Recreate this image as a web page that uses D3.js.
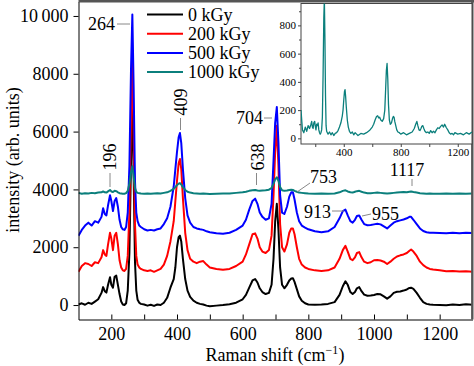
<!DOCTYPE html>
<html><head><meta charset="utf-8">
<script src="https://cdn.jsdelivr.net/npm/d3@7/dist/d3.min.js"></script>
<style>
body{margin:0;background:#fff}
svg{display:block}
text{font-family:"Liberation Serif","Times New Roman",serif;fill:#000}
</style>
</head><body><svg width="474" height="366"></svg>
<script>
// Raman shift grid (cm^-1)
const shift = [
 100,110,120,130,140,150,160,170,175,180,
 185,190,196,200,205,210,215,220,225,230,
 235,240,245,250,255,260,264,268,272,276,
 280,285,290,300,310,320,330,340,350,360,
 370,380,390,395,400,405,409,413,418,425,
 432,440,450,460,470,480,490,500,520,540,
 560,580,600,610,620,630,638,645,652,660,
 670,680,688,694,699,704,709,714,720,727,
 735,742,748,753,758,765,772,780,790,800,
 820,840,860,880,895,905,913,920,928,935,
 942,948,955,962,970,980,990,1000,1010,1020,
 1030,1040,1050,1060,1070,1080,1090,1100,1108,1113,
 1120,1130,1140,1150,1160,1170,1180,1200,1220,1240,
 1260,1280,1300];

const dose0 = [
 20,60,10,80,40,120,200,420,620,480,
 430,700,960,700,600,980,1020,700,380,120,
 20,0,60,500,1800,5000,7200,4500,1500,500,
 180,80,40,20,-20,10,-30,20,0,80,
 250,600,900,1300,2000,2350,2400,2200,1600,900,
 500,280,150,80,40,20,-20,-40,-20,0,
 30,80,200,350,600,850,900,780,580,450,
 380,420,700,1600,2900,3500,2600,1300,700,580,
 700,850,920,930,800,550,300,150,60,20,
 10,20,40,100,350,650,820,700,450,380,
 450,580,620,480,360,320,330,350,380,370,
 300,220,300,420,460,470,500,540,590,600,
 560,420,250,100,40,20,10,0,-10,20,
 0,30,10];

const dose200 = [
 1150,1350,1450,1420,1350,1480,1450,1650,1900,1750,
 1700,2100,2500,2300,1900,2400,2500,2100,1550,1300,
 1200,1180,1250,1700,3200,6500,8700,5800,2800,1700,
 1400,1300,1250,1200,1180,1200,1150,1200,1250,1400,
 1700,2200,2900,3600,4300,4900,5050,4700,3700,2500,
 1900,1600,1500,1450,1500,1520,1400,1300,1250,1220,
 1250,1350,1500,1750,2100,2450,2480,2300,2000,1850,
 1800,1900,2400,3800,5300,6200,4800,2800,2000,1850,
 2100,2500,2650,2650,2450,2000,1600,1400,1300,1250,
 1200,1180,1200,1300,1600,1900,2050,1850,1600,1550,
 1650,1800,1830,1650,1500,1450,1480,1550,1560,1540,
 1500,1420,1500,1600,1680,1720,1750,1800,1880,1920,
 1850,1700,1500,1380,1300,1250,1230,1200,1170,1180,
 1160,1170,1150];

const dose500 = [
 2400,2600,2750,2850,2750,2900,2850,3050,3350,3150,
 3100,3450,3800,3600,3250,3600,3700,3400,2950,2700,
 2620,2600,2700,3200,4800,8200,10050,7500,4300,3200,
 2900,2750,2700,2620,2580,2600,2580,2620,2650,2800,
 3000,3400,4100,4700,5300,5800,5950,5600,4700,3700,
 3100,2850,2700,2650,2620,2600,2550,2520,2480,2470,
 2500,2600,2750,2950,3300,3600,3680,3500,3200,3050,
 2950,3000,3500,5000,6300,6850,5600,3800,3200,3150,
 3400,3750,3900,3900,3650,3200,2900,2750,2680,2620,
 2550,2520,2550,2700,3000,3250,3300,3100,2900,2850,
 2950,3080,3100,2950,2800,2760,2770,2790,2810,2790,
 2720,2650,2750,2850,2900,2930,2960,3000,3050,3050,
 2950,2800,2650,2560,2520,2500,2500,2490,2480,2500,
 2480,2500,2490];

const dose1000 = [
 3880,3850,3870,3860,3880,3870,3890,3900,3930,3900,
 3890,3930,3980,3930,3910,3950,3940,3900,3870,3860,
 3850,3850,3870,3950,4200,4600,4800,4450,4050,3920,
 3880,3870,3860,3850,3860,3850,3860,3870,3860,3880,
 3900,3950,4020,4080,4150,4200,4220,4170,4080,3980,
 3920,3890,3870,3860,3850,3860,3850,3840,3850,3860,
 3860,3880,3900,3920,3950,3970,3980,3960,3950,3960,
 3970,3990,4050,4200,4350,4420,4300,4080,3970,3950,
 3960,3980,3990,3980,3950,3920,3890,3880,3870,3860,
 3850,3860,3850,3860,3900,3950,3970,3930,3900,3890,
 3920,3940,3950,3920,3890,3870,3870,3880,3890,3880,
 3870,3860,3870,3880,3890,3900,3910,3900,3920,3930,
 3910,3890,3870,3860,3850,3860,3850,3850,3860,3850,
 3860,3850,3860];

// inset: 1000 kGy spectrum on its own scale
const inset1000 = [
 200,60,40,80,50,90,70,100,120,80,
 70,110,120,90,60,100,90,110,60,40,
 30,40,60,150,450,850,990,700,300,90,
 50,40,30,45,25,40,20,35,40,55,
 80,110,160,200,270,330,345,300,220,130,
 80,50,35,45,25,40,30,20,35,30,
 40,55,80,100,130,155,160,145,150,130,
 120,140,200,350,480,530,420,240,130,100,
 110,140,155,150,120,90,60,45,40,30,
 40,25,35,45,70,100,120,90,60,55,
 70,85,90,70,50,40,45,35,55,40,
 50,40,60,75,70,85,95,80,100,90,
 75,60,40,30,35,25,40,30,35,25,
 40,30,45];

const seriesNames = ["0 kGy","200 kGy","500 kGy","1000 kGy"];
const seriesColors = ["#000000","#ff0000","#0000ff","#0b7f7c"];
const seriesValues = [dose0,dose200,dose500,dose1000];

const xTickValues = [200,300,400,500,600,700,800,900,1000,1100,1200];
const yTickValues = [0,2000,4000,6000,8000,10000];
const yTickLabels = ["0","2000","4000","6000","8000","10\u2009000"];
const insetYMajor = [0,200,400,600,800];
const insetYMinor = [100,300,500,700,900];
const insetXTicks = [200,400,600,800,1000,1200];

const peakLabels = ["264","196","409","638","704","753","913","955","1117"];

const svg = d3.select("svg");
const L=78.5, R=472.5, T=1.5, B=319.5;
const x = d3.scaleLinear().domain([100,1300]).range([L,R]);
const y = d3.scaleLinear().domain([-500,10500]).range([B,T]);

svg.append("defs").append("clipPath").attr("id","clipMain")
  .append("rect").attr("x",L).attr("y",T).attr("width",R-L).attr("height",B-T);

// lines
const line = vals => d3.line().x((d,i)=>x(shift[i])).y(d=>y(d))(vals);
const gLines = svg.append("g").attr("clip-path","url(#clipMain)");
seriesValues.forEach((vals,k)=>{
  gLines.append("path").attr("d",line(vals)).attr("fill","none")
    .attr("stroke",seriesColors[k]).attr("stroke-width",2).attr("stroke-linejoin","round");
});

// axes
const xAxis = d3.axisBottom(x).tickValues(xTickValues).tickSize(-5).tickSizeOuter(0).tickPadding(8)
  .tickFormat(d => d%200===0 ? d : "");
const gx = svg.append("g").attr("transform",`translate(0,${B})`).call(xAxis);
gx.selectAll("text").attr("font-size",18).attr("font-family","Liberation Serif");
gx.select(".domain").attr("stroke","#000");

const yAxis = d3.axisLeft(y).tickValues(yTickValues).tickSize(5).tickSizeOuter(0).tickPadding(5)
  .tickFormat((d,i)=>yTickLabels[i]);
const gy = svg.append("g").attr("transform",`translate(${L},0)`).call(yAxis);
gy.selectAll("text").attr("font-size",18).attr("font-family","Liberation Serif");

// frame top/right
svg.append("line").attr("x1",L).attr("x2",474).attr("y1",1.2).attr("y2",1.2).attr("stroke","#555").attr("stroke-width",2.4);
svg.append("line").attr("x1",472.3).attr("x2",472.3).attr("y1",0).attr("y2",B).attr("stroke","#555").attr("stroke-width",2.4);

// axis titles
const xt = svg.append("text").attr("x",275).attr("y",361).attr("text-anchor","middle").attr("font-size",18);
xt.append("tspan").text("Raman shift (cm");
xt.append("tspan").text("\u22121").attr("font-size",12).attr("dy",-7);
xt.append("tspan").text(")").attr("dy",7);
svg.append("text").attr("transform","translate(13,160) rotate(-90)").attr("text-anchor","middle")
  .attr("dy","0.35em").attr("font-size",18).text("intensity (arb. units)");

// legend
const lg = svg.append("g");
seriesNames.forEach((n,k)=>{
  const yy = 14.5 + k*19.2;
  lg.append("line").attr("x1",147).attr("x2",183).attr("y1",yy).attr("y2",yy)
    .attr("stroke",seriesColors[k]).attr("stroke-width",2);
  lg.append("text").attr("x",188).attr("y",yy).attr("dy","0.35em").attr("font-size",18).text(n);
});

// peak annotations
const ann = svg.append("g");
const lead = (x1,y1,x2,y2)=>ann.append("line").attr("x1",x1).attr("y1",y1).attr("x2",x2).attr("y2",y2)
  .attr("stroke","#888").attr("stroke-width",1);
const htxt = (t,xx,yy,anchor)=>ann.append("text").attr("x",xx).attr("y",yy).attr("dy","0.35em")
  .attr("text-anchor",anchor).attr("font-size",18).text(t);
const vtxt = (t,xx,yy)=>ann.append("text").attr("transform",`translate(${xx},${yy}) rotate(-90)`)
  .attr("dy","0.35em").attr("text-anchor","middle").attr("font-size",18).text(t);

htxt(peakLabels[0],115,24,"end"); lead(117,24,130,24);
vtxt(peakLabels[1],109.5,157); lead(110,173,110,187);
vtxt(peakLabels[2],181,102); lead(180.5,118,180.5,130);
vtxt(peakLabels[3],257.5,157); lead(256.5,173,256.5,185);
htxt(peakLabels[4],263,118,"end"); lead(264,118,272,118);
htxt(peakLabels[5],310,177,"start"); lead(297,192,310,183);
htxt(peakLabels[6],331,212,"end"); lead(332,211,344,211);
htxt(peakLabels[7],372,214,"start"); lead(362,216,371,214);
htxt(peakLabels[8],407,170,"middle"); lead(412,179,412,186);

// inset
const iL=301, iR=472, iT=3.5, iB=144;
const ix = d3.scaleLinear().domain([100,1300]).range([iL,iR]);
const iy = d3.scaleLinear().domain([-40,955]).range([iB,iT]);
svg.append("rect").attr("x",iL).attr("y",iT).attr("width",iR-iL).attr("height",iB-iT)
  .attr("fill","#fff").attr("stroke","#444").attr("stroke-width",1);
svg.append("defs").append("clipPath").attr("id","clipInset")
  .append("rect").attr("x",iL).attr("y",iT).attr("width",iR-iL).attr("height",iB-iT);
svg.append("path").attr("clip-path","url(#clipInset)")
  .attr("d",d3.line().x((d,i)=>ix(shift[i])).y(d=>iy(d))(inset1000))
  .attr("fill","none").attr("stroke",seriesColors[3]).attr("stroke-width",1.3).attr("stroke-linejoin","round");

const iyAxis = d3.axisLeft(iy).tickValues(insetYMajor).tickSize(3).tickSizeOuter(0).tickPadding(2);
const giy = svg.append("g").attr("transform",`translate(${iL},0)`).call(iyAxis);
giy.select(".domain").remove();
giy.selectAll("text").attr("font-size",11).attr("font-family","Liberation Serif");
giy.selectAll("line").attr("stroke","#444");
const giy2 = svg.append("g").attr("transform",`translate(${iL},0)`)
  .call(d3.axisLeft(iy).tickValues(insetYMinor).tickSize(2).tickFormat(""));
giy2.select(".domain").remove();
giy2.selectAll("line").attr("stroke","#444");

const ixAxis = d3.axisBottom(ix).tickValues(insetXTicks).tickSize(3).tickSizeOuter(0).tickPadding(1)
  .tickFormat(d => d%400===0 ? d : "");
const gix = svg.append("g").attr("transform",`translate(0,${iB})`).call(ixAxis);
gix.select(".domain").remove();
gix.selectAll("text").attr("font-size",11).attr("font-family","Liberation Serif");
gix.selectAll("line").attr("stroke","#444");
</script>
</body></html>
